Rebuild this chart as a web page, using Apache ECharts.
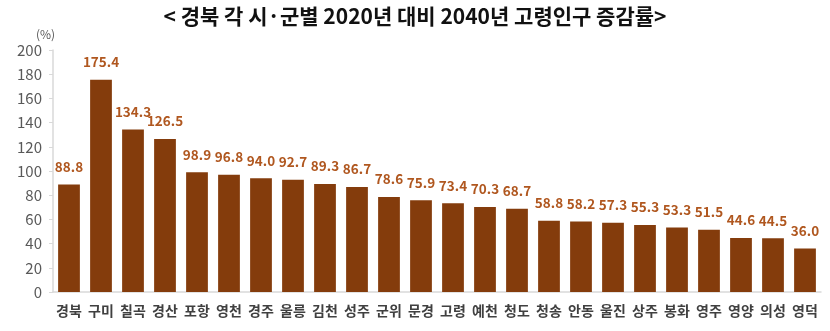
<!DOCTYPE html>
<html><head><meta charset="utf-8">
<script src="https://cdn.jsdelivr.net/npm/echarts@6/dist/echarts.min.js"></script>
<style>html,body{margin:0;padding:0;background:#fff}#c{width:830px;height:331px}</style>
</head><body><div id="c"></div>
<script>
const categories = ['경북','구미','칠곡','경산','포항','영천','경주','울릉','김천','성주','군위','문경','고령','예천','청도','청송','안동','울진','상주','봉화','영주','영양','의성','영덕'];
const values = [88.8,175.4,134.3,126.5,98.9,96.8,94.0,92.7,89.3,86.7,78.6,75.9,73.4,70.3,68.7,58.8,58.2,57.3,55.3,53.3,51.5,44.6,44.5,36.0];
const yTicks = [0,20,40,60,80,100,120,140,160,180,200];
const chart = echarts.init(document.getElementById('c'), null, {renderer:'canvas'});
const ff = '"Noto Sans CJK KR","Noto Sans",sans-serif';
chart.setOption({
  animation:false,
  title:{text:'< 경북 각 시·군별 2020년 대비 2040년 고령인구 증감률>', left:'center', top:1,
    textStyle:{fontFamily:ff, fontSize:21, fontWeight:'bold', color:'#111'}},
  graphic:[{type:'text', left:36, top:28, style:{text:'(%)', fontFamily:ff, fontSize:12, fill:'#595959'}}],
  grid:{left:53, right:9, top:50, bottom:39, containLabel:false},
  xAxis:{type:'category', data:categories,
    axisLine:{lineStyle:{color:'#d9d9d9', width:1.5}},
    axisTick:{show:false},
    axisLabel:{fontFamily:ff, fontSize:14, fontWeight:'bold', color:'#404040', margin:12, interval:0}},
  yAxis:{type:'value', min:yTicks[0], max:yTicks[yTicks.length-1], interval:20,
    axisLine:{show:true, lineStyle:{color:'#d9d9d9', width:1.5}},
    axisTick:{show:true, length:4, lineStyle:{color:'#d9d9d9'}},
    splitLine:{show:false},
    axisLabel:{fontFamily:ff, fontSize:15, color:'#595959', margin:11}},
  series:[{type:'bar', data:values, barCategoryGap:'32%',
    itemStyle:{color:'#843C0C'},
    label:{show:true, position:'top', distance:11, formatter:p=>p.value.toFixed(1),
      fontFamily:ff, fontSize:13.5, fontWeight:'bold', color:'#B0571F'}}]
});
</script></body></html>
